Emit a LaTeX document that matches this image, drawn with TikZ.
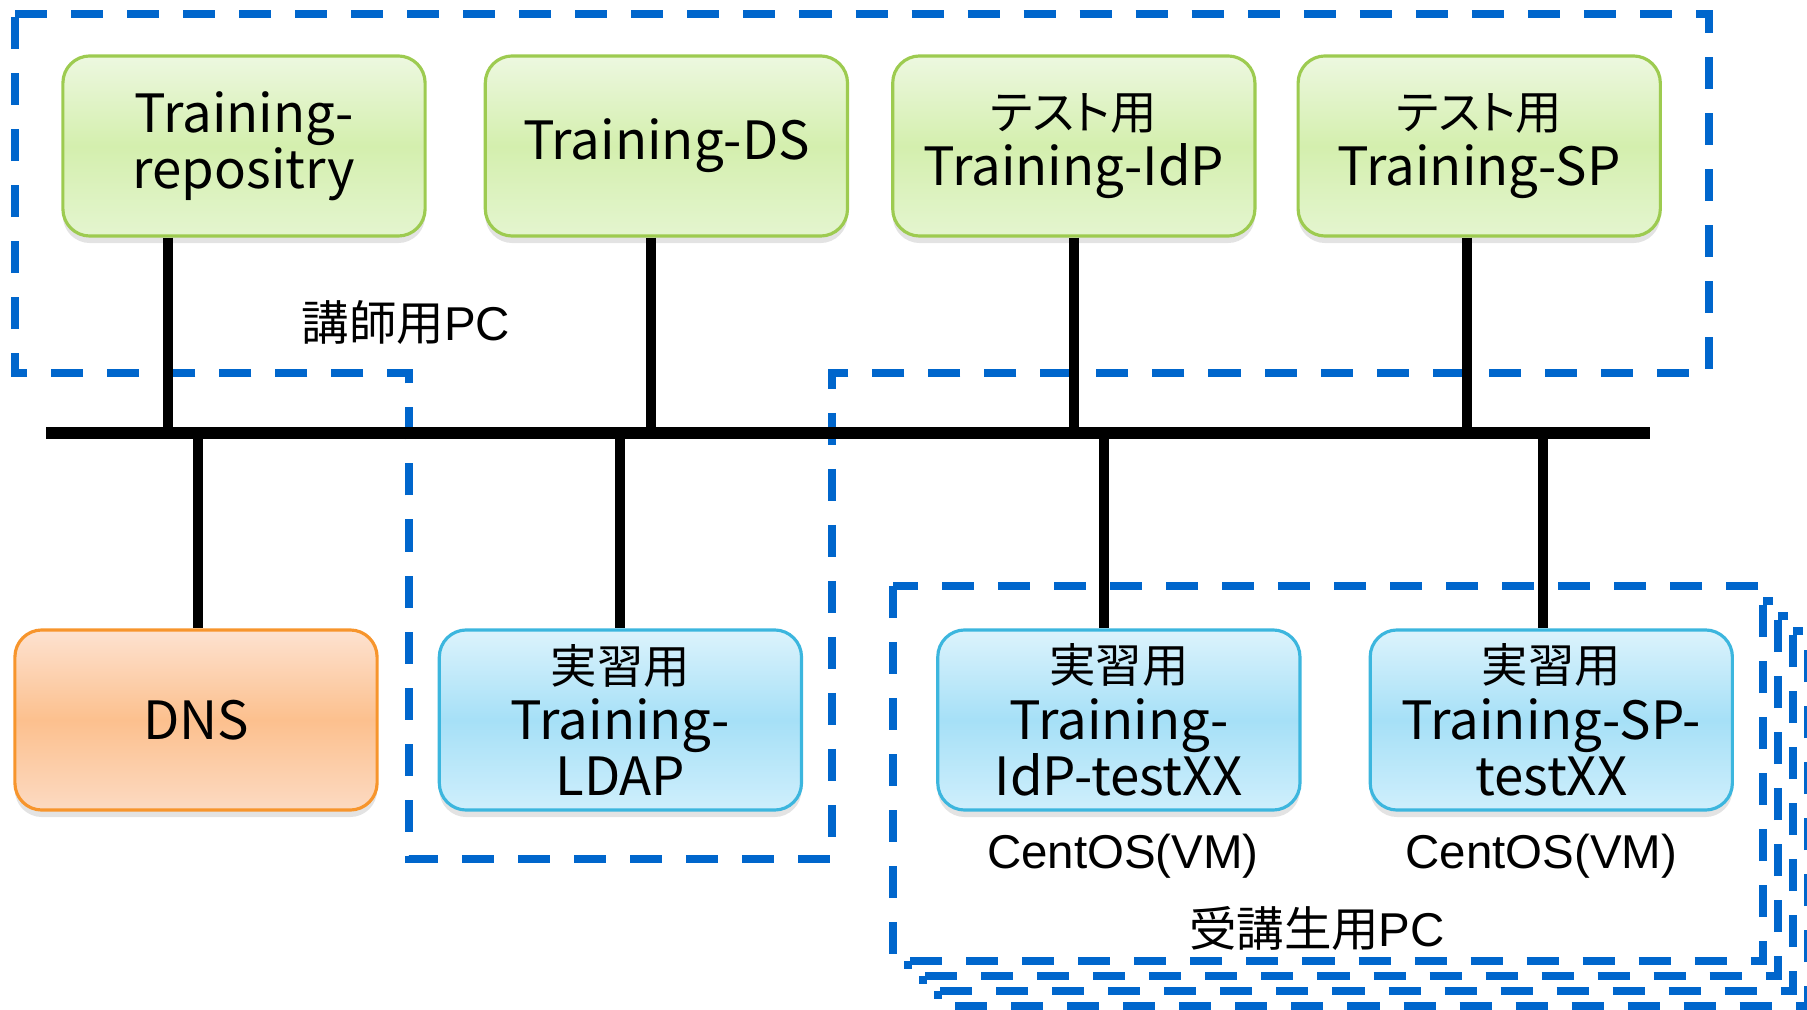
\documentclass[tikz,border=0pt]{standalone}
\usepackage{fontspec}
\setmainfont{Liberation Sans}
\newfontfamily\jpfont{Noto Sans CJK JP}
\usetikzlibrary{positioning, shadows}
\definecolor{greenTop}{HTML}{EDF8E0}
\definecolor{greenMid}{HTML}{D4EFAE}
\definecolor{greenBottom}{HTML}{E4F5CF}
\definecolor{greenBorder}{HTML}{9DCB50}
\definecolor{orangeTop}{HTML}{FDE2D0}
\definecolor{orangeMid}{HTML}{FCC08E}
\definecolor{orangeBottom}{HTML}{FCDAC2}
\definecolor{orangeBorder}{HTML}{F7952C}
\definecolor{blueTop}{HTML}{DCF3FC}
\definecolor{blueMid}{HTML}{A6E0F7}
\definecolor{blueBottom}{HTML}{CFEFFC}
\definecolor{blueBorder}{HTML}{3CB6DE}
\definecolor{groupBlue}{HTML}{0066CC}
% japanese line inside a host box: a bit smaller, proportional kana
\newcommand{\jpline}[1]{{\fontsize{13.2}{16}\selectfont\addfontfeatures{RawFeature=+palt}#1}}
\tikzset{
  server/.style={rounded corners=0.27cm, minimum width=3.62cm, minimum height=1.80cm,
    align=center, font=\jpfont\fontsize{15}{16}\selectfont, line width=0.9pt,
    drop shadow={shadow xshift=0pt, shadow yshift=-0.07cm, opacity=0.22}},
  hostbox/.style={server, draw=greenBorder, top color=greenTop, bottom color=greenBottom,
    middle color=greenMid},
  dnsbox/.style={server, draw=orangeBorder, top color=orangeTop, bottom color=orangeBottom,
    middle color=orangeMid},
  vmbox/.style={server, draw=blueBorder, top color=blueTop, bottom color=blueBottom,
    middle color=blueMid},
  groupline/.style={draw=groupBlue, line width=0.08cm, dash pattern=on 0.32cm off 0.24cm},
  bus/.style={line width=0.12cm, black},
  link/.style={line width=0.10cm, black},
  tag/.style={font=\fontsize{13.5}{16}\selectfont, inner sep=0pt},
}

\begin{document}
\begin{tikzpicture}[x=0.01cm, y=-0.01cm]
  \useasboundingbox (0,0) rectangle (1807,1010);

  % === Instructor PC group (wraps round the LDAP host) ===
  \draw[groupline] (15,14) -- (1709,14) -- (1709,373) -- (832,373) -- (832,859)
    -- (409,859) -- (409,373) -- (15,373) -- cycle;
  \node[tag] (teacherpc) at (406,323) {{\jpfont 講師用}PC};

  % === Student PCs: a stack of dashed frames ===
  \draw[groupline, fill=white] (938,631) rectangle (1808,1006);
  \draw[groupline, fill=white] (923,616) rectangle (1793,991);
  \draw[groupline, fill=white] (908,601) rectangle (1778,976);
  \draw[groupline, fill=white] (893,586) rectangle (1763,961);
  \node[tag] (studentpc) at (1317,928) {{\jpfont 受講生用}PC};

  % === Row 1: hosts on the instructor PC ===
  \node[hostbox] (repo) at (244,146) {Training-\\repositry};
  \node[hostbox, right=0.57cm of repo] (ds) {Training-DS};
  \node[hostbox, right=0.42cm of ds] (idp) {\jpline{テスト用}\\Training-IdP};
  \node[hostbox, right=0.40cm of idp] (sp) {\jpline{テスト用}\\Training-SP};

  % === Row 2: DNS and practice hosts ===
  \node[dnsbox] (dns) at (196,720) {DNS};
  \node[vmbox, right=0.59cm of dns] (ldap) {\jpline{実習用}\\Training-\\LDAP};
  \node[vmbox, right=1.33cm of ldap] (idptest) {\jpline{実習用}\\Training-\\IdP-testXX};
  \node[vmbox, right=0.67cm of idptest] (sptest) {\jpline{実習用}\\Training-SP-\\testXX};

  \node[tag, below=0.22cm of idptest, xshift=0.04cm] (idpos) {CentOS(VM)};
  \node[tag, below=0.22cm of sptest, xshift=-0.10cm] (spos) {CentOS(VM)};

  % === Network bus ===
  \coordinate (busL) at (46,433);
  \coordinate (busR) at (1650,433);
  \draw[bus] (busL) -- (busR);

  % tap points on the bus
  \coordinate (tapRepo) at (168,433);
  \coordinate (tapDs) at (651,433);
  \coordinate (tapIdp) at (1074,433);
  \coordinate (tapSp) at (1467,433);
  \coordinate (tapDns) at (198,433);
  \coordinate (tapLdap) at (620,433);
  \coordinate (tapIdpTest) at (1104,433);
  \coordinate (tapSpTest) at (1543,433);

  % Links: upper hosts -> bus
  \draw[link] (repo.south -| tapRepo) -- (tapRepo);
  \draw[link] (ds.south -| tapDs) -- (tapDs);
  \draw[link] (idp.south -| tapIdp) -- (tapIdp);
  \draw[link] (sp.south -| tapSp) -- (tapSp);

  % Links: bus -> lower hosts
  \draw[link] (tapDns) -- (dns.north -| tapDns);
  \draw[link] (tapLdap) -- (ldap.north -| tapLdap);
  \draw[link] (tapIdpTest) -- (idptest.north -| tapIdpTest);
  \draw[link] (tapSpTest) -- (sptest.north -| tapSpTest);

\end{tikzpicture}
\end{document}
